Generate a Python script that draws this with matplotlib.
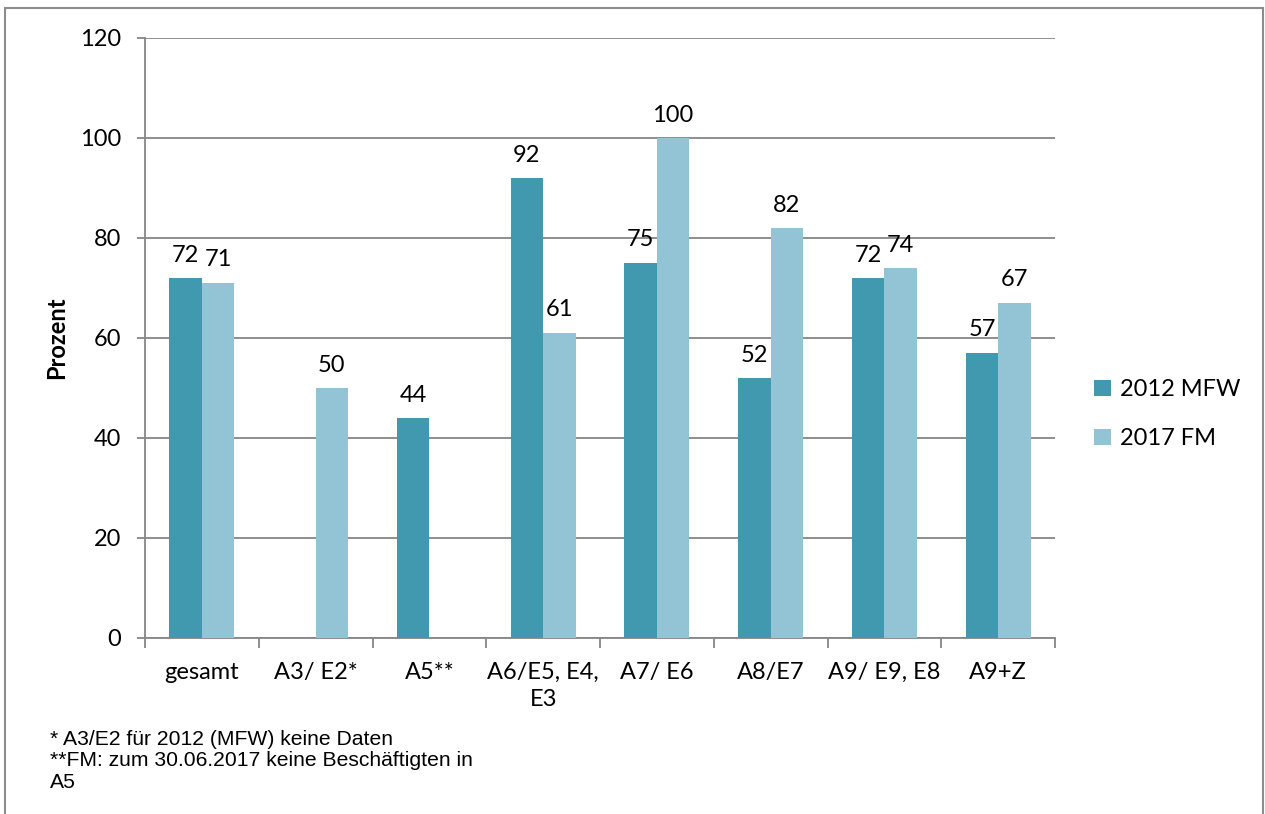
import matplotlib.pyplot as plt
import matplotlib.patches as patches
import numpy as np

# Data
categories = ['gesamt', 'A3/ E2*', 'A5**', 'A6/E5, E4,\nE3', 'A7/ E6', 'A8/E7', 'A9/ E9, E8', 'A9+Z']
mfw_2012 = [72, None, 44, 92, 75, 52, 72, 57]
fm_2017 = [71, 50, None, 61, 100, 82, 74, 67]
series_names = ['2012 MFW', '2017 FM']
colors = ['#4199B0', '#93C4D6']
footnote = ('* A3/E2 für 2012 (MFW) keine Daten\n'
            '**FM: zum 30.06.2017 keine Beschäftigten in\nA5')

plt.rcParams['font.family'] = ['Lato', 'DejaVu Sans']
fs = 17

fig = plt.figure(figsize=(12.65, 8.14), dpi=100)
ax = fig.add_axes([145 / 1265, 1 - 638 / 814, 910 / 1265, 600 / 814])

# outer frame like the exported chart area
frame = patches.Rectangle((5 / 1265, -0.1), 1258 / 1265, 1.1 - 8 / 814,
                          transform=fig.transFigure, fill=False,
                          edgecolor='#8c8c8c', linewidth=1.5)
fig.add_artist(frame)

x = np.arange(len(categories))
w = 0.285
for i, (vals, col, name) in enumerate(zip([mfw_2012, fm_2017], colors, series_names)):
    offs = (i - 0.5) * w
    xs = [xi + offs for xi, v in zip(x, vals) if v is not None]
    vs = [v for v in vals if v is not None]
    ax.bar(xs, vs, width=w, color=col, label=name, zorder=3)
    for xx, v in zip(xs, vs):
        ax.annotate(str(v), (xx, v), xytext=(0, 9), textcoords='offset points',
                    ha='center', va='bottom', fontsize=fs)

ax.set_xlim(-0.5, len(categories) - 0.5)
ax.set_ylim(0, 120)
ax.set_yticks(range(0, 121, 20))
ax.yaxis.grid(True, color='#868686', linewidth=1.3, zorder=0)
ax.set_axisbelow(True)

ax.set_xticks(x)
ax.set_xticklabels(categories, fontsize=fs, va='top', linespacing=1.35)
ax.set_xticks(np.arange(-0.5, len(categories)), minor=True)
ax.tick_params(axis='x', which='major', length=0, pad=17)
ax.tick_params(axis='x', which='minor', length=7, width=1.3, color='#868686')
ax.tick_params(axis='y', length=6, width=1.3, color='#868686', labelsize=fs, pad=11)

for s in ['top', 'right']:
    ax.spines[s].set_visible(False)
for s in ['left', 'bottom']:
    ax.spines[s].set_color('#868686')
    ax.spines[s].set_linewidth(1.3)

ax.set_ylabel('Prozent', fontsize=fs, fontweight='bold', labelpad=9)

ax.legend(loc='center left', bbox_to_anchor=(1.02, 0.373), frameon=False,
          fontsize=fs, handlelength=0.7, handleheight=0.7, labelspacing=1.2,
          handletextpad=0.4)

fig.text(50 / 1265, 1 - 730 / 814, footnote, fontsize=15.2,
         family=['Liberation Sans', 'DejaVu Sans'], va='top', linespacing=1.15)

fig.savefig('out.png', dpi=100)
